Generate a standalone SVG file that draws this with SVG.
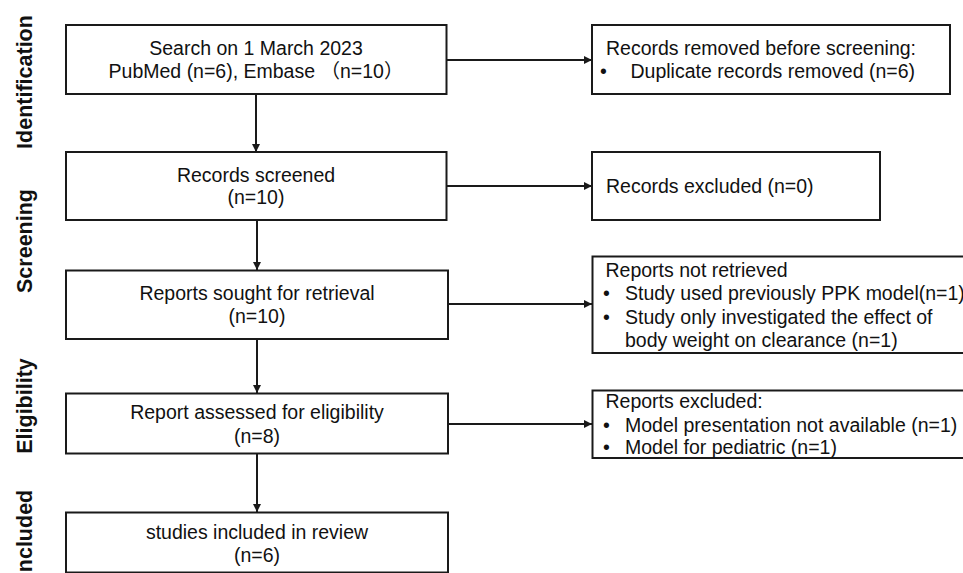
<svg xmlns="http://www.w3.org/2000/svg" width="963" height="573" viewBox="0 0 963 573">
<defs>
<style>
.box{fill:#fff;stroke:#1a1a1a;stroke-width:2}
.t{font-family:"Liberation Sans","Noto Sans CJK SC",Arial,sans-serif;font-size:19.5px;fill:#111}
.c{text-anchor:middle}
.lab{font-family:"Liberation Sans",Arial,sans-serif;font-size:21.5px;font-weight:bold;fill:#111;text-anchor:middle}
.ln{stroke:#1a1a1a;stroke-width:2;fill:none;marker-end:url(#ah)}
</style>
<marker id="ah" viewBox="0 0 10 10" refX="10" refY="5" markerWidth="4" markerHeight="4" orient="auto" markerUnits="strokeWidth">
<path d="M0,0 L10,5 L0,10 z" fill="#1a1a1a"/>
</marker>
</defs>
<rect width="963" height="573" fill="#fff"/>

<g id="stage-labels">
<text class="lab" transform="translate(32,82) rotate(-90)">Identification</text>
<text class="lab" transform="translate(32,241) rotate(-90)">Screening</text>
<text class="lab" transform="translate(32,406) rotate(-90)">Eligibility</text>
<text class="lab" transform="translate(32,531) rotate(-90)">ncluded</text>
</g>

<g id="connectors">
<line class="ln" x1="256" y1="94" x2="256" y2="152"/>
<line class="ln" x1="257" y1="220" x2="257" y2="270"/>
<line class="ln" x1="257" y1="339" x2="257" y2="393"/>
<line class="ln" x1="257" y1="454" x2="257" y2="512"/>
<line class="ln" x1="447" y1="60" x2="592" y2="60"/>
<line class="ln" x1="447" y1="186" x2="592" y2="186"/>
<line class="ln" x1="448" y1="304" x2="592" y2="304"/>
<line class="ln" x1="448" y1="424" x2="592" y2="424"/>
</g>

<g id="search">
<rect class="box" x="66" y="25" width="380.5" height="69"/>
<text class="t c" x="256" y="55">Search on 1 March 2023</text>
<text class="t c" x="256" y="78">PubMed (n=6), Embase （n=10）</text>
</g>

<g id="screened">
<rect class="box" x="66" y="152" width="380.5" height="68"/>
<text class="t c" x="256" y="181.5">Records screened</text>
<text class="t c" x="256" y="204">(n=10)</text>
</g>

<g id="sought">
<rect class="box" x="66" y="270.5" width="382" height="68.5"/>
<text class="t c" x="257" y="300">Reports sought for retrieval</text>
<text class="t c" x="257" y="323">(n=10)</text>
</g>

<g id="assessed">
<rect class="box" x="66" y="393.5" width="382" height="60"/>
<text class="t c" x="257" y="419">Report assessed for eligibility</text>
<text class="t c" x="257" y="442.5">(n=8)</text>
</g>

<g id="included">
<rect class="box" x="66" y="512.5" width="382" height="60"/>
<text class="t c" x="257" y="538.5">studies included in review</text>
<text class="t c" x="257" y="562">(n=6)</text>
</g>

<g id="removed">
<rect class="box" x="592" y="25" width="358" height="69"/>
<text class="t" x="606" y="55">Records removed before screening:</text>
<text class="t" x="600" y="78">•</text>
<text class="t" x="630.5" y="78">Duplicate records removed (n=6)</text>
</g>

<g id="excluded-records">
<rect class="box" x="592" y="152" width="288" height="68"/>
<text class="t" x="606" y="193">Records excluded (n=0)</text>
</g>

<g id="not-retrieved">
<rect class="box" x="592.5" y="256.5" width="380" height="96.5"/>
<text class="t" x="605.5" y="277">Reports not retrieved</text>
<text class="t" x="603" y="300">•</text>
<text class="t" x="625" y="300">Study used previously PPK model(n=1)</text>
<text class="t" x="603" y="323.5">•</text>
<text class="t" x="625" y="323.5">Study only investigated the effect of</text>
<text class="t" x="625" y="346.5">body weight on clearance (n=1)</text>
</g>

<g id="excluded-reports">
<rect class="box" x="592.5" y="390.5" width="380" height="67.5"/>
<text class="t" x="605.5" y="408">Reports excluded:</text>
<text class="t" x="603" y="431.5">•</text>
<text class="t" x="625" y="431.5">Model presentation not available (n=1)</text>
<text class="t" x="603" y="454">•</text>
<text class="t" x="625" y="454">Model for pediatric (n=1)</text>
</g>
</svg>
